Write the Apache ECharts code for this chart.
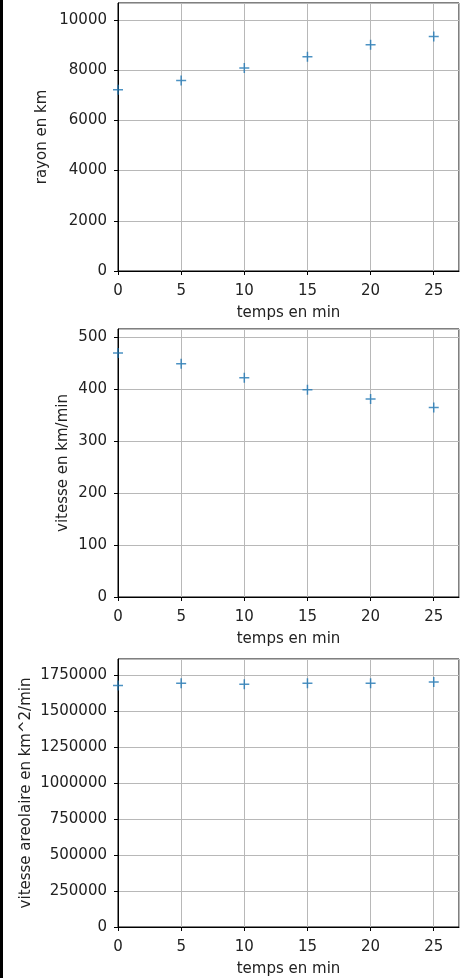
<!DOCTYPE html>
<html>
<head>
<meta charset="utf-8">
<script src="https://cdn.jsdelivr.net/npm/echarts@6/dist/echarts.min.js"></script>
<style>
  html, body { margin: 0; padding: 0; background: #fff; }
  #wrap { border-left: 3px solid #000; width: 467px; height: 978px; }
  #chart { width: 467px; height: 978px; }
</style>
</head>
<body>
<div id="wrap"><div id="chart"></div></div>
<script>
// temps en min
const temps = [0, 5, 10, 15, 20, 25]
// rayon en km
const rayon = [7220, 7580, 8080, 8530, 9010, 9340]
// vitesse en km/min
const vitesse = [470, 449, 422, 399, 381, 365]
// vitesse areolaire en km^2/min
const areolaire = [1676000, 1692000, 1685000, 1692000, 1692000, 1701000]

const yNames = ['rayon en km', 'vitesse en km/min', 'vitesse areolaire en km^2/min']
const yMax = [10670, 516, 1860000]
const yStep = [2000, 100, 250000]
const yNameGap = [68, 47, 84]
const gridTops = [3, 329, 659]
const gridHeight = 268

const font = 'DejaVu Sans'
const txt = '#222'
const plus = 'path://M0,4.25H10V5.75H0Z M4.25,0H5.75V10H4.25Z'

const chart = echarts.init(document.getElementById('chart'))

const grids = [], xAxes = [], yAxes = [], series = []
const datasets = [rayon, vitesse, areolaire]

datasets.forEach((vals, i) => {
  grids.push({
    left: 115, right: 11, top: gridTops[i], height: gridHeight,
    outerBoundsMode: 'none', containLabel: false,
    show: true, borderColor: '#000', borderWidth: 1, backgroundColor: '#fff'
  })
  xAxes.push({
    gridIndex: i, type: 'value', min: 0, max: 27, interval: 5,
    name: 'temps en min', nameLocation: 'middle', nameGap: 35, nameMoveOverlap: false,
    nameTextStyle: { fontFamily: font, fontSize: 15, color: txt },
    axisLine: { onZero: false, lineStyle: { color: '#000', width: 1 } },
    axisTick: { show: true, length: 4, lineStyle: { color: '#000' } },
    axisLabel: { fontFamily: font, fontSize: 15, color: txt, margin: 13, showMaxLabel: false },
    splitLine: { show: true, lineStyle: { color: '#b8b8b8', width: 1 } }
  })
  yAxes.push({
    gridIndex: i, type: 'value', min: 0, max: yMax[i], interval: yStep[i],
    name: yNames[i], nameLocation: 'middle', nameGap: yNameGap[i], nameMoveOverlap: false,
    nameTextStyle: { fontFamily: font, fontSize: 15, color: txt },
    axisLine: { show: true, onZero: false, lineStyle: { color: '#000', width: 1 } },
    axisTick: { show: true, length: 4, lineStyle: { color: '#000' } },
    axisLabel: {
      fontFamily: font, fontSize: 15, color: txt, margin: 11, showMaxLabel: false,
      formatter: v => String(v)
    },
    splitLine: { show: true, lineStyle: { color: '#b8b8b8', width: 1 } }
  })
  series.push({
    type: 'scatter', xAxisIndex: i, yAxisIndex: i,
    data: temps.map((t, k) => [t, vals[k]]),
    symbol: plus, symbolSize: 10,
    itemStyle: { color: '#1f77b4' },
    emphasis: { disabled: true }
  })
})

chart.setOption({
  animation: false,
  grid: grids,
  xAxis: xAxes,
  yAxis: yAxes,
  series: series
})
</script>
</body>
</html>
